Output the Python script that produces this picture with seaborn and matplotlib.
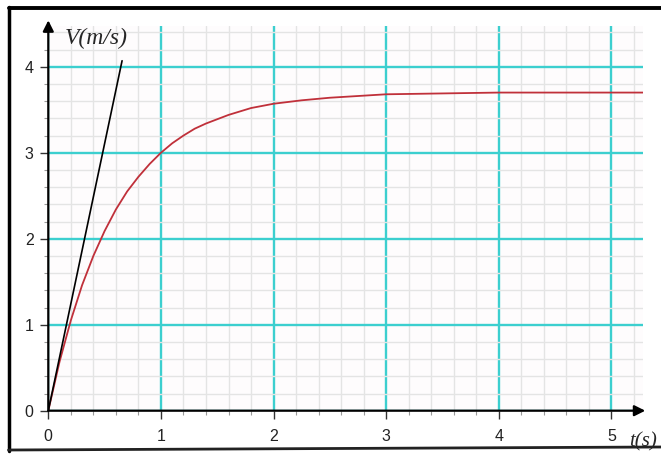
import numpy as np
import seaborn as sns
import matplotlib.pyplot as plt
from matplotlib.lines import Line2D

# Data
t_curve = [0.0, 0.1, 0.2, 0.3, 0.4, 0.5, 0.6, 0.7, 0.8, 0.9, 1.0, 1.1, 1.2,
           1.3, 1.4, 1.6, 1.8, 2.0, 2.25, 2.5, 2.75, 3.0, 3.5, 4.0, 4.5,
           5.0, 5.28]
v_curve = [0.0, 0.57, 1.05, 1.46, 1.80, 2.09, 2.34, 2.55, 2.72, 2.87, 3.00,
           3.11, 3.20, 3.28, 3.34, 3.44, 3.52, 3.57, 3.61, 3.64, 3.66, 3.68,
           3.69, 3.70, 3.70, 3.70, 3.70]
t_tangent = [0.0, 0.655]
v_tangent = [0.0, 4.07]
x_ticks = [0, 1, 2, 3, 4, 5]
y_ticks = [0, 1, 2, 3, 4]

sns.set_style("white")
plt.rcParams['font.family'] = ['Liberation Sans', 'DejaVu Sans']

fig = plt.figure(figsize=(6.61, 4.55), dpi=100)
ax = fig.add_axes([48.3 / 661, 44.3 / 455, 594.7 / 661, 385.2 / 455])
ax.set_facecolor('#fefcfd')

sns.lineplot(x=t_curve, y=v_curve, ax=ax, color='#c0303a', lw=1.3, zorder=4)
sns.lineplot(x=t_tangent, y=v_tangent, ax=ax, color='black', lw=1.2, zorder=5)

ax.set_xlim(0, 5.28)
ax.set_ylim(0, 4.48)

ax.set_xticks(x_ticks)
ax.set_yticks(y_ticks)
ax.set_xticks(np.arange(0, 5.3, 0.2), minor=True)
ax.set_yticks(np.arange(0, 4.5, 0.2), minor=True)
ax.grid(which='minor', color='#e4e4e4', lw=1.0, zorder=0)
ax.grid(which='major', color='#3ccfcf', lw=1.7, zorder=1)
ax.set_axisbelow(True)

for s in ax.spines.values():
    s.set_visible(False)

ax.tick_params(which='major', length=5.5, width=1.0, color='#333333',
               labelsize=11.5, labelcolor='#222222', left=True, bottom=True)
ax.tick_params(axis='x', which='major', pad=8)
ax.tick_params(axis='y', which='major', pad=5)
ax.tick_params(which='minor', length=3, width=0.8, color='#999999',
               left=True, bottom=True)

# axes with arrow heads
ax.annotate('', xy=(5.30, 0), xytext=(0, 0),
            arrowprops=dict(arrowstyle='-|>', color='black', lw=1.6,
                            mutation_scale=16, shrinkA=0, shrinkB=0),
            annotation_clip=False, zorder=6)
ax.annotate('', xy=(0, 4.54), xytext=(0, 0),
            arrowprops=dict(arrowstyle='-|>', color='black', lw=1.6,
                            mutation_scale=16, shrinkA=0, shrinkB=0),
            annotation_clip=False, zorder=6)

ax.text(0.145, 4.33, 'V(m/s)', family='Liberation Serif', style='italic',
        fontsize=17, ha='left', va='center', clip_on=False)
ax.text(5.155, -0.36, 't(s)', family='Liberation Serif', style='italic',
        fontsize=15, ha='left', va='center', clip_on=False)

ax.set_xlabel('')
ax.set_ylabel('')

# picture frame
W, H = 661, 455
fig.add_artist(Line2D([8.5 / W, 8.5 / W], [(H - 451) / H, (H - 7) / H],
                      color='black', lw=2.5, transform=fig.transFigure))
fig.add_artist(Line2D([8.5 / W, 1.0], [(H - 7.5) / H, (H - 7.5) / H],
                      color='black', lw=2.8, transform=fig.transFigure))
fig.add_artist(Line2D([8.5 / W, 1.0], [(H - 450) / H, (H - 447) / H],
                      color='#222222', lw=2.0, transform=fig.transFigure))

fig.savefig('out.png', dpi=100)
